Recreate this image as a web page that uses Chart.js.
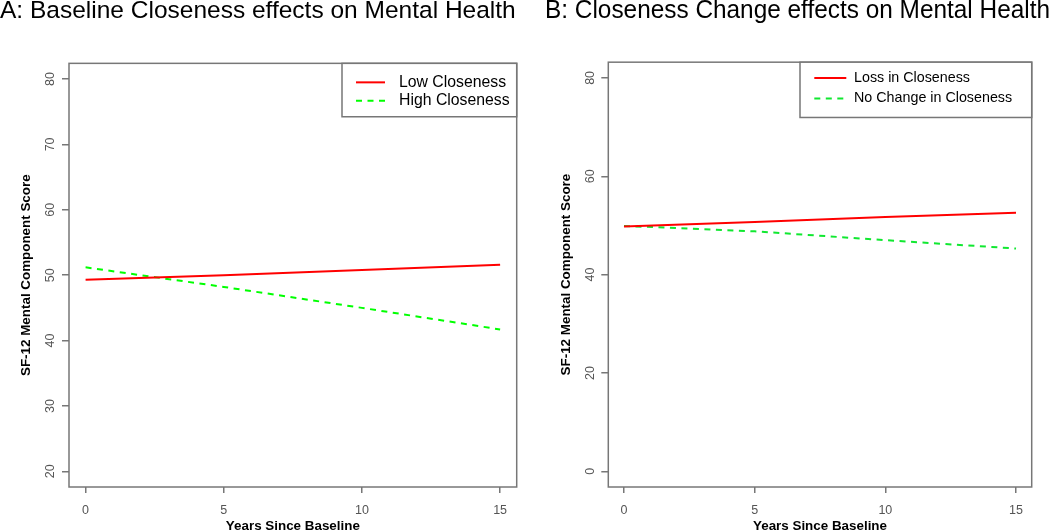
<!DOCTYPE html>
<html>
<head>
<meta charset="utf-8">
<script src="https://cdn.jsdelivr.net/npm/chart.js@4.4.1/dist/chart.umd.min.js"></script>
<style>
    html, body { margin: 0; padding: 0; background: #fff; overflow: hidden; }
    #wrapA { position: absolute; left: 0; top: 0; width: 525px; height: 536px; }
    #wrapB { position: absolute; left: 545px; top: 0; width: 505px; height: 536px; }
</style>
</head>
<body>
<div id="wrapA"><canvas id="chartA"></canvas></div>
<div id="wrapB"><canvas id="chartB"></canvas></div>
<script>
// values
const years = [0, 5, 10, 15];
const xTicks = [0, 5, 10, 15];

const lowCloseness = [49.3, 50.0, 50.8, 51.6];
const highCloseness = [51.2, 48.2, 45.0, 41.7];
const yTicksA = [20, 30, 40, 50, 60, 70, 80];

const lossInCloseness = [49.8, 50.7, 51.7, 52.6];
const noChangeInCloseness = [49.9, 48.8, 47.0, 45.3];
const yTicksB = [0, 20, 40, 60, 80];

const FONT = '"Liberation Sans", Arial, Helvetica, sans-serif';
const FRAME = '#777';
const TICK_TEXT = '#555';

function points(values) {
    return years.map((x, i) => ({ x: x, y: values[i] }));
}

// pads the axis range by 4% on both sides, like R does
function padded(ticks) {
    const lo = ticks[0], hi = ticks[ticks.length - 1];
    const d = (hi - lo) * 0.04;
    return { min: lo - d, max: hi + d };
}

const frameBox = {
    id: 'frameBox',
    afterDatasetsDraw(chart) {
        const { ctx, chartArea } = chart;
        ctx.save();
        ctx.strokeStyle = FRAME;
        ctx.lineWidth = 1.5;
        ctx.strokeRect(chartArea.left, chartArea.top,
            chartArea.right - chartArea.left, chartArea.bottom - chartArea.top);
        ctx.restore();
    }
};

const boxLegend = {
    id: 'boxLegend',
    afterDraw(chart, args, o) {
        const { ctx, chartArea } = chart;
        const left = chartArea.right - o.width;
        const top = chartArea.top;
        ctx.save();
        ctx.fillStyle = '#fff';
        ctx.fillRect(left, top, o.width, o.height);
        ctx.strokeStyle = FRAME;
        ctx.lineWidth = 1.5;
        ctx.strokeRect(left, top, o.width, o.height);
        ctx.font = o.fontSize + 'px ' + FONT;
        ctx.textBaseline = 'middle';
        ctx.textAlign = 'left';
        chart.data.datasets.forEach((ds, i) => {
            const y = top + o.rows[i];
            ctx.strokeStyle = ds.borderColor;
            ctx.lineWidth = 2;
            ctx.setLineDash(ds.borderDash || []);
            ctx.beginPath();
            ctx.moveTo(left + o.lineStart, y);
            ctx.lineTo(left + o.lineStart + o.lineLength, y);
            ctx.stroke();
            ctx.setLineDash([]);
            ctx.fillStyle = '#000';
            ctx.fillText(ds.label, left + o.textStart, y);
        });
        ctx.restore();
    }
};

function makeChart(id, cfg) {
    const xr = padded(xTicks);
    const yr = padded(cfg.yTicks);
    const ctx = document.getElementById(id).getContext('2d');

    return new Chart(ctx, {
        type: 'line',
        data: {
            datasets: cfg.series.map(s => ({
                label: s.label,
                data: points(s.values),
                borderColor: s.color,
                borderWidth: 2,
                borderDash: s.dash,
                pointRadius: 0,
                tension: 0,
                fill: false
            }))
        },
        options: {
            responsive: true,
            maintainAspectRatio: false,
            animation: false,
            layout: { padding: 0 },
            plugins: {
                legend: { display: false },
                tooltip: { enabled: false },
                title: {
                    display: true,
                    text: cfg.title,
                    align: 'start',
                    color: '#000',
                    font: { family: FONT, size: cfg.titleSize, weight: 'normal', lineHeight: 0.9 },
                    padding: { top: 0, bottom: cfg.titleGap }
                },
                boxLegend: cfg.legend
            },
            scales: {
                x: {
                    type: 'linear',
                    min: xr.min,
                    max: xr.max,
                    afterBuildTicks: s => { s.ticks = xTicks.map(v => ({ value: v })); },
                    afterFit: s => { s.height = 49; },
                    border: { display: false },
                    grid: { drawOnChartArea: false, color: FRAME, tickLength: 6, lineWidth: 1.5 },
                    ticks: {
                        color: TICK_TEXT,
                        padding: 10,
                        maxRotation: 0,
                        font: { family: FONT, size: 12.5 }
                    },
                    title: {
                        display: true,
                        text: 'Years Since Baseline',
                        color: '#000',
                        font: { family: FONT, size: 13.4, weight: 'bold', lineHeight: 1.2 },
                        padding: { top: 0, bottom: 2 }
                    }
                },
                y: {
                    type: 'linear',
                    min: yr.min,
                    max: yr.max,
                    afterBuildTicks: s => { s.ticks = cfg.yTicks.map(v => ({ value: v })); },
                    afterFit: s => { s.width = cfg.yWidth; },
                    border: { display: false },
                    grid: { drawOnChartArea: false, color: FRAME, tickLength: 7, lineWidth: 1.5 },
                    ticks: {
                        color: TICK_TEXT,
                        padding: cfg.yTickPad,
                        minRotation: 90,
                        maxRotation: 90,
                        crossAlign: 'center',
                        font: { family: FONT, size: 12.5 }
                    },
                    title: {
                        display: true,
                        text: 'SF-12 Mental Component Score',
                        color: '#000',
                        font: { family: FONT, size: 13.4, weight: 'bold', lineHeight: 1.2 },
                        padding: { top: cfg.yTitlePad, bottom: 0 }
                    }
                },
                // empty right margin, keeps the title box full width
                yRight: {
                    type: 'linear',
                    position: 'right',
                    min: yr.min,
                    max: yr.max,
                    afterFit: s => { s.width = cfg.padRight; },
                    border: { display: false },
                    grid: { display: false },
                    ticks: { display: false }
                }
            }
        },
        plugins: [frameBox, boxLegend]
    });
}

makeChart('chartA', {
    title: 'A: Baseline Closeness effects on Mental Health',
    titleSize: 24.5,
    titleGap: 41.3,
    padRight: 8.3,
    yWidth: 69,
    yTickPad: 5,
    yTitlePad: 18,
    yTicks: yTicksA,
    series: [
        { label: 'Low Closeness', values: lowCloseness, color: '#ff0000', dash: [] },
        { label: 'High Closeness', values: highCloseness, color: '#00ff00', dash: [6, 5.5] }
    ],
    legend: { width: 174.7, height: 53.4, lineStart: 14, lineLength: 29, textStart: 57, rows: [19, 37.4], fontSize: 15.8 }
});

makeChart('chartB', {
    title: 'B: Closeness Change effects on Mental Health',
    titleSize: 25.2,
    titleGap: 39.5,
    padRight: 18.3,
    yWidth: 63.3,
    yTickPad: 4,
    yTitlePad: 13.7,
    yTicks: yTicksB,
    series: [
        { label: 'Loss in Closeness', values: lossInCloseness, color: '#ff0000', dash: [] },
        { label: 'No Change in Closeness', values: noChangeInCloseness, color: '#10e830', dash: [6, 5.5] }
    ],
    legend: { width: 231.7, height: 55.3, lineStart: 14.3, lineLength: 32, textStart: 54, rows: [15.7, 36.3], fontSize: 14.3 }
});
</script>
</body>
</html>
